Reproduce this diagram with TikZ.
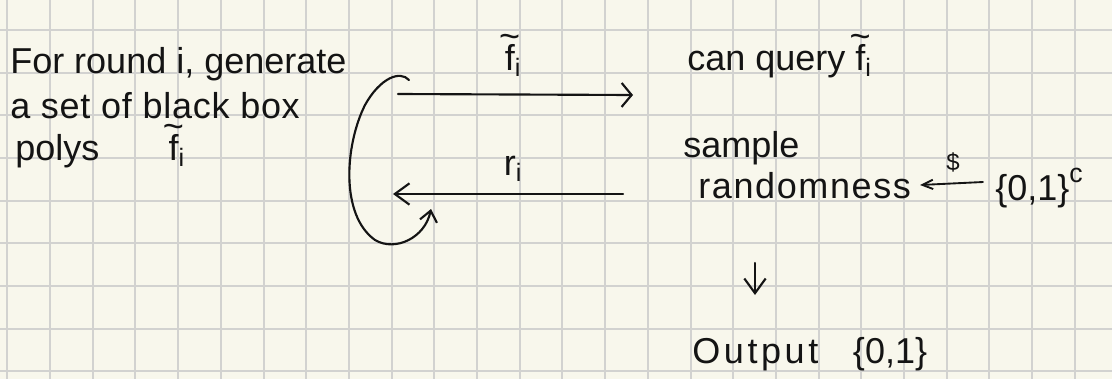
\documentclass[tikz,border=0pt]{standalone}
\usepackage{fontspec}
\setmainfont{Liberation Sans}
\usetikzlibrary{arrows.meta}
\definecolor{paper}{RGB}{248,247,236}
\definecolor{gridc}{RGB}{210,210,208}
\definecolor{ink}{RGB}{20,20,20}
\newcommand{\ft}{\makebox[0pt][l]{\raisebox{0.6em}{\hspace{-0.16em}\char"7E}}f\textsubscript{i}}
\tikzset{
  gridline/.style={draw=gridc, line width=1.5pt},
  txt/.style={inner sep=0pt, anchor=base west, text=ink, font=\fontsize{27}{32}\selectfont},
  ctxt/.style={inner sep=0pt, anchor=base, text=ink, font=\fontsize{27}{32}\selectfont},
  inkline/.style={draw=ink, line width=1.6pt, line cap=round, line join=round},
}
\begin{document}
\begin{tikzpicture}[x=0.75pt,y=-0.75pt]
\fill[paper] (0,0) rectangle (1112,379);
\useasboundingbox (0,0) rectangle (1112,379);
\foreach \k in {0,...,25} \draw[gridline] ({7.3+42.7*\k},0) -- ++(0,379);
\foreach \k in {0,...,8} \draw[gridline] (0,{30+42.67*\k}) -- ++(1112,0);

% left text
\node[txt] (t1) at (10,73) {For round i, generate};
\node[txt] (t2) at (10,118) {\addfontfeatures{LetterSpace=2}a set of black box};
\node[txt] (t3) at (15,160) {polys\hspace{52pt}\ft};

% top arrow
\coordinate (L1) at (398,94);
\coordinate (R1) at (633,95);
\draw[inkline, -{Straight Barb[length=7.5pt,width=18pt]}] (L1) -- (R1);
\node[ctxt] (fi) at (513,70) {\ft};

% bottom arrow
\coordinate (R2) at (623,194);
\coordinate (L2) at (393,194);
\draw[inkline, -{Straight Barb[length=11pt,width=16pt]}] (R2) -- (L2);
\node[ctxt] (ri) at (513,175) {r\textsubscript{i}};

% loop arrow
\coordinate (c0) at (409,80);
\coordinate (c1) at (431,209);
\draw[inkline, -{Straight Barb[length=8pt,width=13pt]}] (c0) .. controls (400,70) and (380,78) .. (365,105)
  .. controls (345,145) and (340,215) .. (375,240)
  .. controls (395,252) and (425,238) .. (c1);

% right side
\node[txt] (cq) at (687,70) {can query \ft};
\node[txt] (samp) at (683,157) {sample};
\node[txt] (rand) at (698,198) {\addfontfeatures{LetterSpace=4.5}randomness};
\node[txt] (zoc) at (995,200) {\{0,1\}\raisebox{13pt}{\fontsize{20}{24}\selectfont c}};
\coordinate (s1) at (983,182);
\coordinate (s2) at (920,185);
\draw[inkline, line width=1.4pt, -{Straight Barb[length=8pt,width=7pt]}] (s1) -- (s2);
\node[ctxt, font=\fontsize{18}{22}\selectfont] (dollar) at (953,170) {\$};

\coordinate (d1) at (755,263);
\coordinate (d2) at (755,295);
\draw[inkline, -{Straight Barb[length=11pt,width=16pt]}] (d1) -- (d2);
\node[txt] (out) at (692,363) {{\addfontfeatures{LetterSpace=10}Output}\hspace{26pt}\{0,1\}};
\end{tikzpicture}
\end{document}
